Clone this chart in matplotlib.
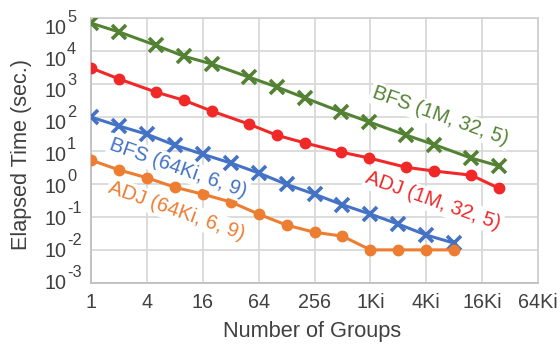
import matplotlib
matplotlib.use("Agg")
import matplotlib.pyplot as plt

plt.rcParams['font.family'] = ['Liberation Sans', 'DejaVu Sans']

# ---- data ----
groups_1M = [1, 2, 5, 10, 20, 50, 100, 200, 500, 1000, 2500, 5000, 12500, 25000]
groups_64Ki = [1, 2, 4, 8, 16, 32, 64, 128, 256, 512, 1024, 2048, 4096, 8192]

bfs_1M = [70000, 38000, 15000, 7000, 4100, 1650, 830, 390, 146, 72, 29, 15, 5.9, 3.4]
adj_1M = [3100, 1450, 580, 330, 155, 63, 29, 17, 8.9, 5.9, 3.1, 2.4, 1.8, 0.72]
bfs_64Ki = [102, 55, 31, 14.5, 7.7, 4.2, 2.1, 0.95, 0.48, 0.23, 0.12, 0.06, 0.028, 0.016]
adj_64Ki = [5.1, 2.6, 1.5, 0.78, 0.48, 0.28, 0.12, 0.056, 0.034, 0.026, 0.010, 0.010, 0.010, 0.010]

x_ticks = [1, 4, 16, 64, 256, 1024, 4096, 16384, 65536]
x_tick_labels = ["1", "4", "16", "64", "256", "1Ki", "4Ki", "16Ki", "64Ki"]
y_exponents = [-3, -2, -1, 0, 1, 2, 3, 4, 5]

c_green = "#548235"
c_red = "#f02828"
c_blue = "#4472c4"
c_orange = "#ed7d31"
c_text = "#404040"

fig = plt.figure(figsize=(5.6, 3.46), dpi=100)
ax = fig.add_axes([91/560, 1-283/346, (538-91)/560, (283-18)/346])

ax.plot(groups_1M, bfs_1M, color=c_green, lw=2.2, marker='x', ms=9.5, mew=2.6, zorder=3)
ax.plot(groups_1M, adj_1M, color=c_red, lw=2.2, marker='o', ms=7.5, zorder=3)
ax.plot(groups_64Ki, bfs_64Ki, color=c_blue, lw=2.2, marker='x', ms=9.5, mew=2.6, zorder=3)
ax.plot(groups_64Ki, adj_64Ki, color=c_orange, lw=2.2, marker='o', ms=7.5, zorder=3)

ax.set_xscale('log', base=2)
ax.set_yscale('log')
ax.set_xlim(1, 65536)
ax.set_ylim(1e-3, 1e5)
ax.set_xticks(x_ticks)
ax.set_xticklabels(x_tick_labels)
y_ticks = [10.0 ** e for e in y_exponents]
ax.set_yticks(y_ticks)
ax.set_yticklabels([])
ax.minorticks_off()
ax.tick_params(axis='both', length=0, labelsize=14.2, colors=c_text)
ax.tick_params(axis='x', pad=7)
ax.grid(True, color='#d9d9d9', lw=1.3)
ax.set_axisbelow(True)
for s in ax.spines.values():
    s.set_color('#d0d0d0')
    s.set_linewidth(1.3)
ax.spines['left'].set_color('#bfbfbf')
ax.spines['bottom'].set_color('#bfbfbf')

# y tick labels: "10" with a large superscript exponent
ytr = ax.get_yaxis_transform()
px = 72.0 / 100  # points per pixel
for e, v in zip(y_exponents, y_ticks):
    drop = 4.2 + 1.17 * (e - 1)          # label centre below gridline (px)
    base = -(drop + 6.7) * px            # baseline offset of "10" (pt)
    ax.annotate("10", xy=(0, v), xycoords=ytr, xytext=(-17.3, base),
                textcoords='offset points', ha='right', va='baseline',
                fontsize=14.2, color=c_text, annotation_clip=False)
    ax.annotate(str(e), xy=(0, v), xycoords=ytr, xytext=(-17.3, base + 12 * px),
                textcoords='offset points', ha='left', va='baseline',
                fontsize=11.8, color=c_text, annotation_clip=False)

ax.set_xlabel("Number of Groups", fontsize=15.7, color=c_text, va='center')
ax.xaxis.set_label_coords((312-91)/447, (283-332)/265)
ax.set_ylabel("Elapsed Time (sec.)", fontsize=15.6, color=c_text, va='center')
ax.yaxis.set_label_coords((22-91)/447, (283-154)/265)

bbox = dict(facecolor='white', edgecolor='none', pad=1.5)
fs = 14.6
def lab(xp, yp, s, c):
    fig.text(xp/560, 1-yp/346, s, color=c, fontsize=fs, rotation=-19.5,
             ha='center', va='center', rotation_mode='anchor', bbox=bbox, zorder=5)

lab(440, 116, "BFS (1M, 32, 5)", c_green)
lab(433, 201, "ADJ (1M, 32, 5)", c_red)
lab(178, 168, "BFS (64Ki, 6, 9)", c_blue)
lab(177, 211, "ADJ (64Ki, 6, 9)", c_orange)

fig.savefig("out.png", dpi=100)
